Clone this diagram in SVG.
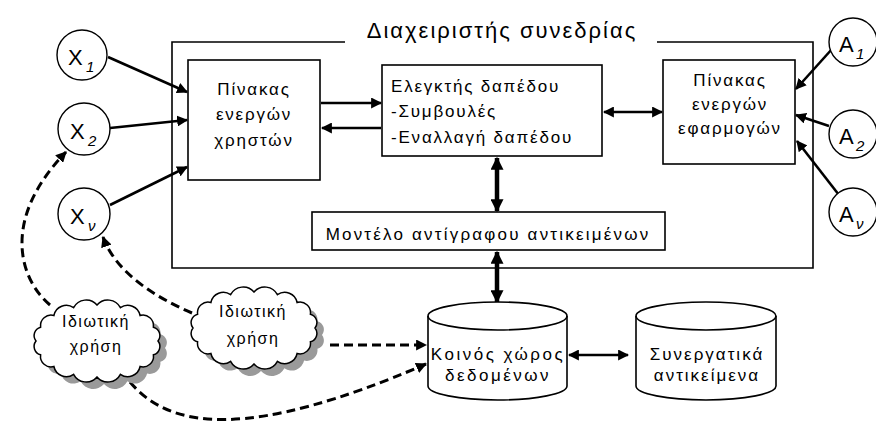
<svg xmlns="http://www.w3.org/2000/svg" width="876" height="430" viewBox="0 0 876 430">
<style>
text{font-family:"Liberation Sans","DejaVu Sans",sans-serif;fill:#000}
.t{font-size:17px;letter-spacing:1.8px}
.tm{text-anchor:middle}
.box{fill:#fff;stroke:#000;stroke-width:1.6}
.circ{fill:#fff;stroke:#000;stroke-width:1.4}
.sub{font-size:15px;font-style:italic}
.cap{font-size:22px}
.thin{stroke:#000;stroke-width:2.6;fill:none}
.thick{stroke:#000;stroke-width:4.5;fill:none}
.dash{stroke:#000;stroke-width:3;fill:none;stroke-dasharray:9 5}
.cloud{fill:#fff;stroke:#000;stroke-width:1.5}
.shadow{fill:#9a9a9a}
.ct{font-size:16px;letter-spacing:1.5px}
</style>
<defs>
<marker id="ah" viewBox="0 0 10 10" refX="9" refY="5" markerWidth="11" markerHeight="11" markerUnits="userSpaceOnUse" orient="auto-start-reverse"><path d="M0,0 L10,5 L0,10 z" fill="#000"/></marker>
<marker id="ahb" viewBox="0 0 10 10" refX="9" refY="5" markerWidth="13" markerHeight="13" markerUnits="userSpaceOnUse" orient="auto-start-reverse"><path d="M0,0 L10,5 L0,10 z" fill="#000"/></marker>
<path id="cl" d="M61,0 A8.7,8.7 0 0 1 56.4,13.8 A10.6,10.6 0 0 1 43.1,25.5 A12.7,12.7 0 0 1 23.4,33.3 A14.2,14.2 0 0 1 0,36 A14.2,14.2 0 0 1 -23.4,33.3 A12.7,12.7 0 0 1 -43.1,25.5 A10.6,10.6 0 0 1 -56.4,13.8 A8.7,8.7 0 0 1 -61,0 A8.7,8.7 0 0 1 -56.4,-13.8 A10.6,10.6 0 0 1 -43.1,-25.5 A12.7,12.7 0 0 1 -23.4,-33.3 A14.2,14.2 0 0 1 0,-36 A14.2,14.2 0 0 1 23.4,-33.3 A12.7,12.7 0 0 1 43.1,-25.5 A10.6,10.6 0 0 1 56.4,-13.8 A8.7,8.7 0 0 1 61,0 Z"/>
</defs>
<rect width="876" height="430" fill="#fff"/>

<g id="session-manager">
<path d="M345,42 H172 V268 H813 V42 H657" fill="none" stroke="#000" stroke-width="1.6"/>
<text x="502" y="38" class="tm" style="font-size:22px;letter-spacing:2px">Διαχειριστής συνεδρίας</text>
</g>

<g id="connectors">
<line class="thin" x1="108" y1="57" x2="187" y2="92" marker-end="url(#ah)"/>
<line class="thin" x1="110" y1="128" x2="187" y2="120" marker-end="url(#ah)"/>
<line class="thin" x1="110" y1="205" x2="187" y2="167" marker-end="url(#ah)"/>
<line class="thin" x1="832" y1="49" x2="796" y2="89" marker-end="url(#ah)"/>
<line class="thin" x1="829" y1="126" x2="796" y2="115" marker-end="url(#ah)"/>
<line class="thin" x1="839" y1="195" x2="797" y2="141" marker-end="url(#ah)"/>
<line class="thin" x1="321" y1="103" x2="381" y2="103" marker-end="url(#ah)"/>
<line class="thin" x1="381" y1="128" x2="322" y2="128" marker-end="url(#ah)"/>
<line class="thin" x1="604" y1="112" x2="662" y2="112" marker-start="url(#ah)" marker-end="url(#ah)"/>
<line class="thick" x1="497" y1="158" x2="497" y2="211" marker-start="url(#ahb)" marker-end="url(#ahb)"/>
<line class="thick" x1="497" y1="252" x2="497" y2="302" marker-start="url(#ahb)" marker-end="url(#ahb)"/>
<line class="thin" x1="569" y1="355" x2="628" y2="355" marker-start="url(#ah)" marker-end="url(#ah)"/>
<path class="dash" d="M50,305 C20,280 0,220 66,152" marker-end="url(#ah)"/>
<path class="dash" d="M192,313 C150,295 115,270 103,237" marker-end="url(#ah)"/>
<path class="dash" d="M330,345 L426,345" marker-end="url(#ah)"/>
<path class="dash" d="M130,382 C170,430 250,440 426,364" marker-end="url(#ah)"/>
</g>

<g id="active-users">
<rect class="box" x="188" y="60" width="132" height="120"/>
<text class="t tm" x="254" y="95">Πίνακας</text>
<text class="t tm" x="254" y="120">ενεργών</text>
<text class="t tm" x="254" y="146">χρηστών</text>
</g>

<g id="floor-controller">
<rect class="box" x="382" y="65" width="220" height="91"/>
<text class="t" x="391" y="92">Ελεγκτής δαπέδου</text>
<text class="t" x="391" y="117">-Συμβουλές</text>
<text class="t" x="391" y="143">-Εναλλαγή δαπέδου</text>
</g>

<g id="active-apps">
<rect class="box" x="663" y="60" width="132" height="104"/>
<text class="t tm" x="730" y="86">Πίνακας</text>
<text class="t tm" x="730" y="110">ενεργών</text>
<text class="t tm" x="730" y="134">εφαρμογών</text>
</g>

<g id="replica-model">
<rect class="box" x="312" y="212" width="353" height="38"/>
<text class="t tm" x="488" y="240" style="letter-spacing:2.2px">Μοντέλο αντίγραφου αντικειμένων</text>
</g>

<g id="x1"><circle class="circ" cx="82" cy="55" r="25"/><text class="cap" x="68" y="65">X</text><text class="sub" x="86" y="72">1</text></g>
<g id="x2"><circle class="circ" cx="84" cy="129" r="26"/><text class="cap" x="70" y="139">X</text><text class="sub" x="88" y="146">2</text></g>
<g id="xv"><circle class="circ" cx="84" cy="214" r="26"/><text class="cap" x="70" y="224">X</text><text class="sub" x="88" y="231">ν</text></g>

<g id="a1"><circle class="circ" cx="853" cy="42" r="24"/><text class="cap" x="839" y="52">A</text><text class="sub" x="856" y="59">1</text></g>
<g id="a2"><circle class="circ" cx="853" cy="134" r="24"/><text class="cap" x="839" y="144">A</text><text class="sub" x="856" y="151">2</text></g>
<g id="av"><circle class="circ" cx="853" cy="212" r="24"/><text class="cap" x="839" y="222">A</text><text class="sub" x="856" y="229">ν</text></g>

<g id="private-use-1">
<use href="#cl" class="shadow" transform="translate(104,348)"/>
<use href="#cl" class="cloud" transform="translate(97,341)"/>
<text class="ct tm" x="96" y="327">Ιδιωτική</text>
<text class="ct tm" x="96" y="352">χρήση</text>
</g>

<g id="private-use-2">
<use href="#cl" class="shadow" transform="translate(261,335)"/>
<use href="#cl" class="cloud" transform="translate(254,328)"/>
<text class="ct tm" x="253" y="317">Ιδιωτική</text>
<text class="ct tm" x="253" y="344">χρήση</text>
</g>

<g id="shared-data">
<path class="box" d="M428,316 A69.5,14 0 0 1 567,316 L567,386 A69.5,14 0 0 1 428,386 Z"/>
<path d="M428,316 A69.5,14 0 0 0 567,316" fill="none" stroke="#000" stroke-width="1.6"/>
<text class="t tm" x="498" y="360" style="letter-spacing:2.5px">Κοινός χώρος</text>
<text class="t tm" x="498" y="381" style="letter-spacing:2.5px">δεδομένων</text>
</g>

<g id="collab-objects">
<path class="box" d="M636,316 A70,14 0 0 1 776,316 L776,386 A70,14 0 0 1 636,386 Z"/>
<path d="M636,316 A70,14 0 0 0 776,316" fill="none" stroke="#000" stroke-width="1.6"/>
<text class="t tm" x="707" y="360" style="letter-spacing:2px">Συνεργατικά</text>
<text class="t tm" x="707" y="381" style="letter-spacing:2px">αντικείμενα</text>
</g>
</svg>
